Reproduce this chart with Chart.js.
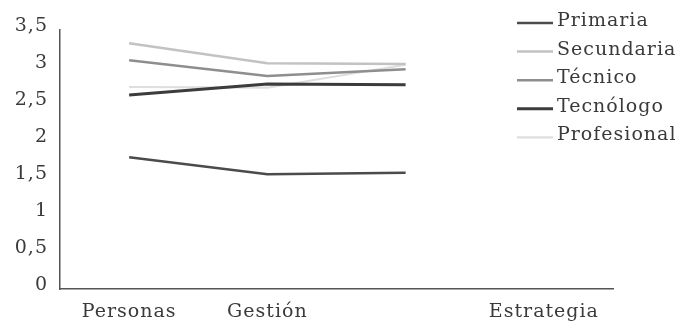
<!DOCTYPE html>
<html>
<head>
<meta charset="utf-8">
<script src="https://cdn.jsdelivr.net/npm/chart.js@4"></script>
<style>
  html, body { margin: 0; padding: 0; background: #fff; }
  #wrap { width: 682px; height: 322px; position: relative; }
</style>
</head>
<body>
<div id="wrap"><canvas id="c" width="682" height="322"></canvas></div>
<script>
const categories = ['Personas', 'Gestión', '', 'Estrategia'];
const seriesNames = ['Primaria', 'Secundaria', 'Técnico', 'Tecnólogo', 'Profesional'];
const primaria    = [1.78, 1.55, 1.57, null];
const secundaria  = [3.32, 3.05, 3.04, null];
const tecnico     = [3.09, 2.88, 2.97, null];
const tecnologo   = [2.62, 2.77, 2.76, null];
const profesional = [2.73, 2.72, 3.03, null];
const yTickLabels = ['0', '0,5', '1', '1,5', '2', '2,5', '3', '3,5'];

const seriesValues = [primaria, secundaria, tecnico, tecnologo, profesional];
const colors = ['#4b4b4b', '#c2c2c2', '#8e8e8e', '#3c3c3c', '#dedede'];
const widths = [2.5, 2.5, 2.5, 3, 2.2];

const FONT = '"DejaVu Serif", "Liberation Serif", serif';
const LS = '1px';

const spacingPlugin = {
  id: 'spacing',
  beforeInit(chart) { chart.ctx.letterSpacing = LS; },
  beforeUpdate(chart) { chart.ctx.letterSpacing = LS; },
  beforeDraw(chart) { chart.ctx.letterSpacing = LS; }
};

const legendPlugin = {
  id: 'sideLegend',
  afterDraw(chart) {
    const ctx = chart.ctx;
    ctx.save();
    chart.data.datasets.forEach((ds, i) => {
      const y = 23 + i * 28.6;
      ctx.beginPath();
      ctx.strokeStyle = ds.borderColor;
      ctx.lineWidth = ds.borderWidth;
      ctx.moveTo(517, y);
      ctx.lineTo(553, y);
      ctx.stroke();
      ctx.fillStyle = '#3a3a3a';
      ctx.font = '19px ' + FONT;
      ctx.textBaseline = 'middle';
      ctx.textAlign = 'left';
      ctx.fillText(ds.label, 557, y - 2);
    });
    ctx.restore();
  }
};

new Chart(document.getElementById('c'), {
  type: 'line',
  data: {
    labels: categories,
    datasets: seriesNames.map((name, i) => ({
      label: name,
      data: seriesValues[i],
      borderColor: colors[i],
      backgroundColor: colors[i],
      borderWidth: widths[i],
      pointRadius: 0,
      tension: 0,
      fill: false
    }))
  },
  options: {
    responsive: false,
    animation: false,
    layout: { padding: { top: 30, right: 69, left: 0, bottom: 0 } },
    plugins: {
      legend: { display: false },
      tooltip: { enabled: false }
    },
    scales: {
      x: {
        offset: true,
        grid: { display: false, drawTicks: false },
        border: { display: true, color: '#555', width: 1.5 },
        ticks: {
          color: '#3a3a3a',
          padding: 12,
          maxRotation: 0,
          autoSkip: false,
          font: { family: FONT, size: 19 }
        },
        afterFit(scale) { scale.height = 33; }
      },
      y: {
        min: 0,
        max: 3.5,
        grid: { display: false, drawTicks: false },
        border: { display: true, color: '#555', width: 1.5 },
        ticks: {
          stepSize: 0.5,
          color: '#3a3a3a',
          padding: 12,
          labelOffset: -4,
          font: { family: FONT, size: 19 },
          callback: (v, i) => yTickLabels[i]
        },
        afterFit(scale) { scale.width = 60; }
      }
    }
  },
  plugins: [spacingPlugin, legendPlugin]
});
</script>
</body>
</html>
